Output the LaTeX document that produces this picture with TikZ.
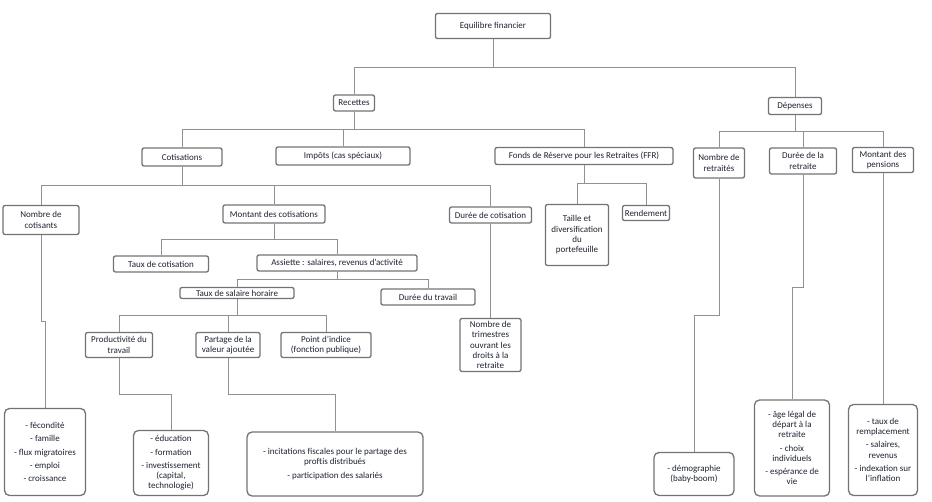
\documentclass[tikz,border=0pt]{standalone}
\usepackage{fontspec}
\setmainfont{Carlito}
\definecolor{boxgray}{RGB}{115,115,115}
\definecolor{linkgray}{RGB}{145,145,145}
\definecolor{txtcol}{RGB}{30,35,50}
\begin{document}
\begin{tikzpicture}
[x=1pt,y=-1pt,
mybox/.style={draw=boxgray,line width=1.3pt,rounded corners=2pt,inner sep=1pt,align=center,text=txtcol,font=\fontsize{9}{10.3}\selectfont},
mylink/.style={draw=linkgray,line width=0.9pt}]
\useasboundingbox (0,0) rectangle (932,502);
\node (root) at (493,26) [mybox,minimum width=115pt,minimum height=25pt] {Equilibre financier};
\node (recettes) at (354,103) [mybox,minimum width=41pt,minimum height=16pt] {Recettes};
\node (depenses) at (795,106) [mybox,minimum width=53pt,minimum height=17pt] {Dépenses};
\node (cotis) at (182,157) [mybox,minimum width=80pt,minimum height=18pt] {Cotisations};
\node (impots) at (343,156) [mybox,minimum width=134pt,minimum height=18pt] {Impôts (cas spéciaux)};
\node (ffr) at (584,156) [mybox,minimum width=178pt,minimum height=17pt] {Fonds de Réserve pour les Retraites (FFR)};
\node (retraites) at (719,163) [mybox,minimum width=51pt,minimum height=30pt] {Nombre de\\retraités};
\node (dureeret) at (803,161) [mybox,minimum width=67pt,minimum height=26pt] {Durée de la\\retraite};
\node (pensions) at (883,160) [mybox,minimum width=61pt,minimum height=25pt] {Montant des\\pensions};
\node (cotisants) at (41,220) [mybox,minimum width=76pt,minimum height=29pt] {Nombre de\\cotisants};
\node (montant) at (274,214) [mybox,minimum width=102pt,minimum height=18pt] {Montant des cotisations};
\node (dureecot) at (490.5,215) [mybox,minimum width=82pt,minimum height=16pt] {Durée de cotisation};
\node (taille) at (577,235) [mybox,minimum width=63pt,minimum height=61pt] {Taille et\\diversification\\du\\portefeuille};
\node (rendement) at (646,213) [mybox,minimum width=47pt,minimum height=15pt] {Rendement};
\node (tauxcot) at (161,264) [mybox,minimum width=95pt,minimum height=16pt] {Taux de cotisation};
\node (assiette) at (337,263) [mybox,minimum width=160pt,minimum height=16pt] {Assiette : salaires, revenus d'activité};
\node (tauxsal) at (237,293) [mybox,minimum width=114pt,minimum height=11pt] {Taux de salaire horaire};
\node (dureetrav) at (428,297) [mybox,minimum width=94pt,minimum height=16pt] {Durée du travail};
\node (productivite) at (119,345) [mybox,minimum width=67pt,minimum height=25pt] {Productivité du\\travail};
\node (partage) at (228,345) [mybox,minimum width=64pt,minimum height=25pt] {Partage de la\\valeur ajoutée};
\node (indice) at (326,345) [mybox,minimum width=90pt,minimum height=25pt] {Point d'indice\\(fonction publique)};
\node (trimestres) at (490.5,345) [mybox,minimum width=61pt,minimum height=53pt] {Nombre de\\trimestres\\ouvrant les\\droits à la\\retraite};
\node (fecondite) at (45,452) [mybox,minimum width=81pt,minimum height=87pt,rounded corners=5pt] {- fécondité\\[3pt]- famille\\[3pt]- flux migratoires\\[3pt]- emploi\\[3pt]- croissance};
\node (education) at (171,463) [mybox,minimum width=75pt,minimum height=65pt,rounded corners=5pt] {- éducation\\[3pt]- formation\\[3pt]- investissement\\(capital,\\technologie)};
\node (incitations) at (335,464) [mybox,minimum width=176pt,minimum height=64pt,rounded corners=5pt] {- incitations fiscales pour le partage des\\proftis distribués\\[3pt]- participation des salariés};
\node (demographie) at (694,474) [mybox,minimum width=80pt,minimum height=43pt,rounded corners=5pt] {- démographie\\(baby-boom)};
\node (age) at (792,448) [mybox,minimum width=75pt,minimum height=96pt,rounded corners=5pt] {- âge légal de\\départ à la\\retraite\\[3pt]- choix\\individuels\\[3pt]- espérance de\\vie};
\node (tauxrempl) at (883,450) [mybox,minimum width=69pt,minimum height=91pt,rounded corners=5pt] {- taux de\\remplacement\\[3pt]- salaires,\\revenus\\[3pt]- indexation sur\\l'inflation};

\draw[mylink] (root.south) -- ++(0,28) -| (recettes.north);
\draw[mylink] (root.south) -- ++(0,28) -| (depenses.north);
\draw[mylink] (recettes.south) -- ++(0,18) -| (cotis.north);
\draw[mylink] (recettes.south) -- ++(0,18) -| (impots.north);
\draw[mylink] (recettes.south) -- ++(0,18) -| (ffr.north);
\draw[mylink] (depenses.south) -- ++(0,16.5) -| (retraites.north);
\draw[mylink] (depenses.south) -- ++(0,16.5) -| (dureeret.north);
\draw[mylink] (depenses.south) -- ++(0,16.5) -| (pensions.north);
\draw[mylink] (cotis.south) -- ++(0,19) -| (cotisants.north);
\draw[mylink] (cotis.south) -- ++(0,19) -| (montant.north);
\draw[mylink] (cotis.south) -- ++(0,19) -| (dureecot.north);
\draw[mylink] (ffr.south) -- ++(0,18.5) -| (taille.north);
\draw[mylink] (ffr.south) -- ++(0,18.5) -| (rendement.north);
\draw[mylink] (montant.south) -- ++(0,16) -| (tauxcot.north);
\draw[mylink] (montant.south) -- ++(0,16) -| (assiette.north);
\draw[mylink] (assiette.south) -- ++(0,8) -| (tauxsal.north);
\draw[mylink] (assiette.south) -- ++(0,8) -| (dureetrav.north);
\draw[mylink] (tauxsal.south) -- ++(0,16.5) -| (productivite.north);
\draw[mylink] (tauxsal.south) -- ++(0,16.5) -| (partage.north);
\draw[mylink] (tauxsal.south) -- ++(0,16.5) -| (indice.north);
\draw[mylink] (productivite.south) -- ++(0,36.5) -| (education.north);
\draw[mylink] (partage.south) -- ++(0,36.5) -| (incitations.north);
\draw[mylink] (cotisants.south) -- ++(0,86.5) -| (fecondite.north);
\draw[mylink] (dureecot.south) -- (trimestres.north);
\draw[mylink] (retraites.south) -- ++(0,137) -| (demographie.north);
\draw[mylink] (dureeret.south) -- ++(0,113) -| (age.north);
\draw[mylink] (pensions.south) -- (tauxrempl.north);

\end{tikzpicture}
\end{document}
